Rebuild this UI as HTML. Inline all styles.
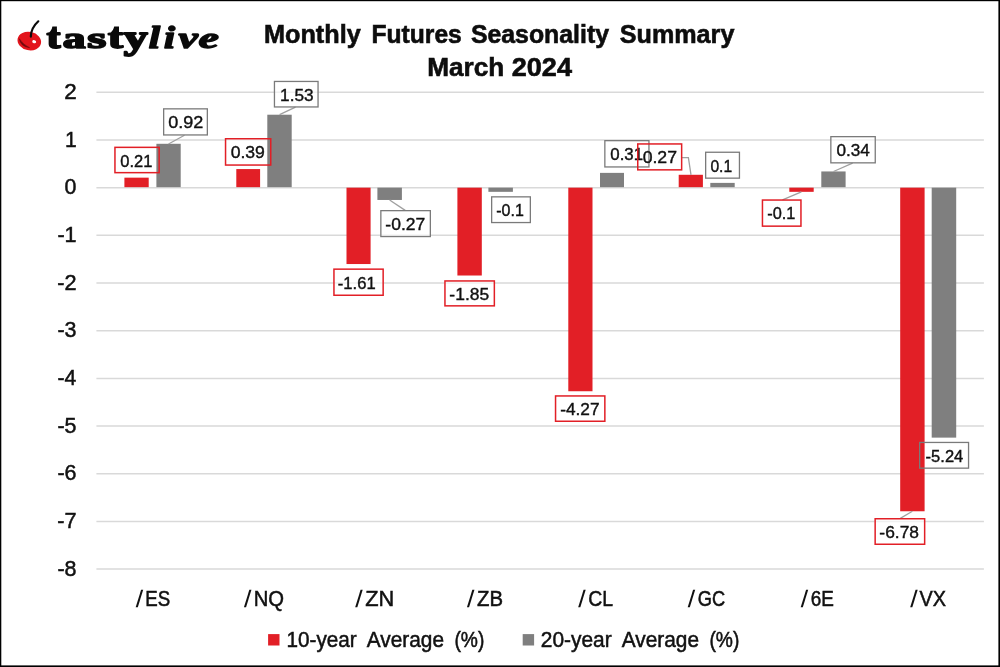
<!DOCTYPE html>
<html><head><meta charset="utf-8"><title>Monthly Futures Seasonality Summary - March 2024</title>
<style>html,body{margin:0;padding:0;background:#fff;}body{width:1000px;height:667px;overflow:hidden;font-family:"Liberation Sans",sans-serif;}svg{display:block;will-change:transform;}text{font-family:"Liberation Sans",sans-serif;fill:#111111;}</style></head><body>
<svg width="1000" height="667" viewBox="0 0 1000 667">
<rect x="0" y="0" width="1000" height="667" fill="#fff"/>
<g stroke="#d9d9d9" stroke-width="1.5">
<line x1="96.4" y1="92.3" x2="983.9" y2="92.3"/>
<line x1="96.4" y1="139.98" x2="983.9" y2="139.98"/>
<line x1="96.4" y1="187.66" x2="983.9" y2="187.66"/>
<line x1="96.4" y1="235.34" x2="983.9" y2="235.34"/>
<line x1="96.4" y1="283.02" x2="983.9" y2="283.02"/>
<line x1="96.4" y1="330.7" x2="983.9" y2="330.7"/>
<line x1="96.4" y1="378.38" x2="983.9" y2="378.38"/>
<line x1="96.4" y1="426.06" x2="983.9" y2="426.06"/>
<line x1="96.4" y1="473.74" x2="983.9" y2="473.74"/>
<line x1="96.4" y1="521.42" x2="983.9" y2="521.42"/>
<line x1="96.4" y1="569.1" x2="983.9" y2="569.1"/>
</g>
<g fill="#fff" fill-opacity="0.6">
<rect x="114.4" y="146.8" width="45.3" height="26.4"/>
<rect x="225" y="138.2" width="46.3" height="27.4"/>
<rect x="333.4" y="268.6" width="50.3" height="27.2"/>
<rect x="444.4" y="280.4" width="50.5" height="26"/>
<rect x="555" y="395.4" width="50.4" height="26.4"/>
<rect x="637.2" y="143.4" width="45" height="27"/>
<rect x="761.9" y="199.5" width="39.6" height="27.2"/>
<rect x="874.6" y="518.2" width="50.6" height="26.6"/>
<rect x="163.2" y="108.4" width="44.6" height="27"/>
<rect x="274" y="81" width="44.5" height="26.4"/>
<rect x="380.4" y="210.2" width="50.4" height="26.8"/>
<rect x="491.2" y="196.4" width="39.6" height="26.6"/>
<rect x="604.4" y="140.2" width="45" height="27.2"/>
<rect x="705.2" y="151.8" width="34.7" height="26.8"/>
<rect x="830.4" y="136.2" width="45.3" height="27.1"/>
<rect x="919.2" y="442" width="49.8" height="26.6"/>
</g>
<g>
<text transform="translate(64.129,98.9) scale(1.01,1)" font-size="22.2" stroke="#111111" stroke-width="0.5" vector-effect="non-scaling-stroke">2</text>
<text transform="translate(64.972,146.58) scale(0.948,1)" font-size="22.2" stroke="#111111" stroke-width="0.5" vector-effect="non-scaling-stroke">1</text>
<text transform="translate(64.396,194.26) scale(0.962,1)" font-size="22.2" stroke="#111111" stroke-width="0.5" vector-effect="non-scaling-stroke">0</text>
<text transform="translate(57.376,241.94) scale(0.975,1)" font-size="22.2" stroke="#111111" stroke-width="0.5" vector-effect="non-scaling-stroke">-1</text>
<text transform="translate(57.373,289.62) scale(0.978,1)" font-size="22.2" stroke="#111111" stroke-width="0.5" vector-effect="non-scaling-stroke">-2</text>
<text transform="translate(57.383,337.3) scale(0.968,1)" font-size="22.2" stroke="#111111" stroke-width="0.5" vector-effect="non-scaling-stroke">-3</text>
<text transform="translate(57.4,384.98) scale(0.951,1)" font-size="22.2" stroke="#111111" stroke-width="0.5" vector-effect="non-scaling-stroke">-4</text>
<text transform="translate(57.386,432.66) scale(0.965,1)" font-size="22.2" stroke="#111111" stroke-width="0.5" vector-effect="non-scaling-stroke">-5</text>
<text transform="translate(57.383,480.34) scale(0.968,1)" font-size="22.2" stroke="#111111" stroke-width="0.5" vector-effect="non-scaling-stroke">-6</text>
<text transform="translate(57.373,528.02) scale(0.978,1)" font-size="22.2" stroke="#111111" stroke-width="0.5" vector-effect="non-scaling-stroke">-7</text>
<text transform="translate(57.383,575.7) scale(0.968,1)" font-size="22.2" stroke="#111111" stroke-width="0.5" vector-effect="non-scaling-stroke">-8</text>
</g>
<rect x="124.4" y="177.647" width="24.3" height="9.513" fill="#e21f26"/>
<rect x="156.4" y="143.794" width="24.3" height="43.366" fill="#7f7f7f"/>
<rect x="236.3" y="169.065" width="23.8" height="18.095" fill="#e21f26"/>
<rect x="267.3" y="114.71" width="24.4" height="72.45" fill="#7f7f7f"/>
<rect x="346.5" y="187.66" width="24.1" height="76.38" fill="#e21f26"/>
<rect x="377.4" y="187.66" width="24.5" height="12.301" fill="#7f7f7f"/>
<rect x="457.4" y="187.66" width="24.4" height="87.857" fill="#e21f26"/>
<rect x="488.4" y="187.66" width="24.5" height="4.172" fill="#7f7f7f"/>
<rect x="568.3" y="187.66" width="24.2" height="203.581" fill="#e21f26"/>
<rect x="600" y="172.879" width="24" height="14.281" fill="#7f7f7f"/>
<rect x="678.7" y="174.786" width="24.2" height="12.374" fill="#e21f26"/>
<rect x="710.3" y="182.892" width="24.4" height="4.268" fill="#7f7f7f"/>
<rect x="789.3" y="187.66" width="24.4" height="4.172" fill="#e21f26"/>
<rect x="821.3" y="171.449" width="24.3" height="15.711" fill="#7f7f7f"/>
<rect x="900.2" y="187.66" width="24.4" height="323.61" fill="#e21f26"/>
<rect x="931.7" y="187.66" width="24.5" height="249.967" fill="#7f7f7f"/>
<g stroke="#a0a0a0" stroke-width="1.3" fill="none">
<polyline points="184.5,135.2 168.5,144"/>
<polyline points="295.5,107.2 279.6,114.7"/>
<polyline points="389.6,200 405.2,210.4"/>
<polyline points="681.9,157.6 688.4,157.6 691,174.8"/>
<polyline points="852.6,163.1 833.5,171.5"/>
<polyline points="801.4,191.9 782.5,199.8"/>
<polyline points="912.4,511.3 900.3,518.4"/>
</g>
<rect x="163.65" y="108.85" width="43.7" height="26.1" fill="none" stroke="#7a7a7a" stroke-width="1.3"/><text transform="translate(168.228,128.3) scale(1.062,1)" font-size="17" stroke="#111111" stroke-width="0.4" vector-effect="non-scaling-stroke">0.92</text>
<rect x="274.45" y="81.45" width="43.6" height="25.5" fill="none" stroke="#7a7a7a" stroke-width="1.3"/><text transform="translate(280.057,100.9) scale(1.014,1)" font-size="17" stroke="#111111" stroke-width="0.4" vector-effect="non-scaling-stroke">1.53</text>
<rect x="380.85" y="210.65" width="49.5" height="25.9" fill="none" stroke="#7a7a7a" stroke-width="1.3"/><text transform="translate(385.362,230.1) scale(1.03,1)" font-size="17" stroke="#111111" stroke-width="0.4" vector-effect="non-scaling-stroke">-0.27</text>
<rect x="491.65" y="196.85" width="38.7" height="25.7" fill="none" stroke="#7a7a7a" stroke-width="1.3"/><text transform="translate(496.229,216.3) scale(0.942,1)" font-size="17" stroke="#111111" stroke-width="0.4" vector-effect="non-scaling-stroke">-0.1</text>
<rect x="604.85" y="140.65" width="44.1" height="26.3" fill="none" stroke="#7a7a7a" stroke-width="1.3"/><text transform="translate(610.276,160.1) scale(0.991,1)" font-size="17" stroke="#111111" stroke-width="0.4" vector-effect="non-scaling-stroke">0.31</text>
<rect x="705.65" y="152.25" width="33.8" height="25.9" fill="none" stroke="#7a7a7a" stroke-width="1.3"/><text transform="translate(710.424,171.7) scale(0.921,1)" font-size="17" stroke="#111111" stroke-width="0.4" vector-effect="non-scaling-stroke">0.1</text>
<rect x="830.85" y="136.65" width="44.4" height="26.2" fill="none" stroke="#7a7a7a" stroke-width="1.3"/><text transform="translate(836.464,156.1) scale(1.009,1)" font-size="17" stroke="#111111" stroke-width="0.4" vector-effect="non-scaling-stroke">0.34</text>
<rect x="919.65" y="442.45" width="48.9" height="25.7" fill="none" stroke="#7a7a7a" stroke-width="1.3"/><text transform="translate(925.605,461.9) scale(0.974,1)" font-size="17" stroke="#111111" stroke-width="0.4" vector-effect="non-scaling-stroke">-5.24</text>
<rect x="114.95" y="147.35" width="44.2" height="25.3" fill="none" stroke="#e21f26" stroke-width="1.5"/><text transform="translate(120.289,166.7) scale(0.972,1)" font-size="17" stroke="#111111" stroke-width="0.4" vector-effect="non-scaling-stroke">0.21</text>
<rect x="225.55" y="138.75" width="45.2" height="26.3" fill="none" stroke="#e21f26" stroke-width="1.5"/><text transform="translate(230.645,158.1) scale(1.037,1)" font-size="17" stroke="#111111" stroke-width="0.4" vector-effect="non-scaling-stroke">0.39</text>
<rect x="333.95" y="269.15" width="49.2" height="26.1" fill="none" stroke="#e21f26" stroke-width="1.5"/><text transform="translate(337.802,288.5) scale(0.977,1)" font-size="17" stroke="#111111" stroke-width="0.4" vector-effect="non-scaling-stroke">-1.61</text>
<rect x="444.95" y="280.95" width="49.4" height="24.9" fill="none" stroke="#e21f26" stroke-width="1.5"/><text transform="translate(449.364,300.3) scale(1.028,1)" font-size="17" stroke="#111111" stroke-width="0.4" vector-effect="non-scaling-stroke">-1.85</text>
<rect x="555.55" y="395.95" width="49.3" height="25.3" fill="none" stroke="#e21f26" stroke-width="1.5"/><text transform="translate(560.173,415.3) scale(1.016,1)" font-size="17" stroke="#111111" stroke-width="0.4" vector-effect="non-scaling-stroke">-4.27</text>
<rect x="637.75" y="143.95" width="43.9" height="25.9" fill="none" stroke="#e21f26" stroke-width="1.5"/><text transform="translate(642.643,163.3) scale(1.04,1)" font-size="17" stroke="#111111" stroke-width="0.4" vector-effect="non-scaling-stroke">0.27</text>
<rect x="762.45" y="200.05" width="38.5" height="26.1" fill="none" stroke="#e21f26" stroke-width="1.5"/><text transform="translate(767.216,219.4) scale(0.96,1)" font-size="17" stroke="#111111" stroke-width="0.4" vector-effect="non-scaling-stroke">-0.1</text>
<rect x="875.15" y="518.75" width="49.5" height="25.5" fill="none" stroke="#e21f26" stroke-width="1.5"/><text transform="translate(879.367,538.1) scale(1.023,1)" font-size="17" stroke="#111111" stroke-width="0.4" vector-effect="non-scaling-stroke">-6.78</text>
<path d="M135.7 607.2 L137.8 607.2 L143.2 589.7 L141.1 589.7 Z" fill="#111111"/>
<text transform="translate(145.306,605.6) scale(0.843,1)" font-size="22.2" stroke="#111111" stroke-width="0.5" vector-effect="non-scaling-stroke">ES</text>
<path d="M243.95 607.2 L246.05 607.2 L251.45 589.7 L249.35 589.7 Z" fill="#111111"/>
<text transform="translate(253.729,605.6) scale(0.912,1)" font-size="22.2" stroke="#111111" stroke-width="0.5" vector-effect="non-scaling-stroke">NQ</text>
<path d="M355.2 607.2 L357.3 607.2 L362.7 589.7 L360.6 589.7 Z" fill="#111111"/>
<text transform="translate(365.141,605.6) scale(0.982,1)" font-size="22.2" stroke="#111111" stroke-width="0.5" vector-effect="non-scaling-stroke">ZN</text>
<path d="M466.95 607.2 L469.05 607.2 L474.45 589.7 L472.35 589.7 Z" fill="#111111"/>
<text transform="translate(476.938,605.6) scale(0.918,1)" font-size="22.2" stroke="#111111" stroke-width="0.5" vector-effect="non-scaling-stroke">ZB</text>
<path d="M578.2 607.2 L580.3 607.2 L585.7 589.7 L583.6 589.7 Z" fill="#111111"/>
<text transform="translate(588.177,605.6) scale(0.876,1)" font-size="22.2" stroke="#111111" stroke-width="0.5" vector-effect="non-scaling-stroke">CL</text>
<path d="M687.7 607.2 L689.8 607.2 L695.2 589.7 L693.1 589.7 Z" fill="#111111"/>
<text transform="translate(697.737,605.6) scale(0.823,1)" font-size="22.2" stroke="#111111" stroke-width="0.5" vector-effect="non-scaling-stroke">GC</text>
<path d="M800.7 607.2 L802.8 607.2 L808.2 589.7 L806.1 589.7 Z" fill="#111111"/>
<text transform="translate(810.803,605.6) scale(0.853,1)" font-size="22.2" stroke="#111111" stroke-width="0.5" vector-effect="non-scaling-stroke">6E</text>
<path d="M910.2 607.2 L912.3 607.2 L917.7 589.7 L915.6 589.7 Z" fill="#111111"/>
<text transform="translate(919.551,605.6) scale(0.896,1)" font-size="22.2" stroke="#111111" stroke-width="0.5" vector-effect="non-scaling-stroke">VX</text>
<rect x="268.1" y="634.1" width="11.4" height="11.4" fill="#e21f26"/>
<text transform="translate(286.445,646.8) scale(0.934,1)" font-size="22.2" stroke="#111111" stroke-width="0.5" vector-effect="non-scaling-stroke">10-year</text>
<text transform="translate(366.798,646.8) scale(0.939,1)" font-size="22.2" stroke="#111111" stroke-width="0.5" vector-effect="non-scaling-stroke">Average</text>
<text transform="translate(454.396,646.8) scale(0.868,1)" font-size="22.2" stroke="#111111" stroke-width="0.5" vector-effect="non-scaling-stroke">(%)</text>
<rect x="522.7" y="634.1" width="11.4" height="11.4" fill="#7f7f7f"/>
<text transform="translate(540.804,646.8) scale(0.942,1)" font-size="22.2" stroke="#111111" stroke-width="0.5" vector-effect="non-scaling-stroke">20-year</text>
<text transform="translate(621.798,646.8) scale(0.939,1)" font-size="22.2" stroke="#111111" stroke-width="0.5" vector-effect="non-scaling-stroke">Average</text>
<text transform="translate(709.396,646.8) scale(0.868,1)" font-size="22.2" stroke="#111111" stroke-width="0.5" vector-effect="non-scaling-stroke">(%)</text>
<text transform="translate(263.945,43.3) scale(0.957,1)" font-size="26.4" font-weight="bold" style="fill:#0d0d0d;" stroke="#0d0d0d" stroke-width="0.6" vector-effect="non-scaling-stroke">Monthly</text>
<text transform="translate(371.488,43.3) scale(0.933,1)" font-size="26.4" font-weight="bold" style="fill:#0d0d0d;" stroke="#0d0d0d" stroke-width="0.6" vector-effect="non-scaling-stroke">Futures</text>
<text transform="translate(470.904,43.3) scale(0.942,1)" font-size="26.4" font-weight="bold" style="fill:#0d0d0d;" stroke="#0d0d0d" stroke-width="0.6" vector-effect="non-scaling-stroke">Seasonality</text>
<text transform="translate(619.795,43.3) scale(0.953,1)" font-size="26.4" font-weight="bold" style="fill:#0d0d0d;" stroke="#0d0d0d" stroke-width="0.6" vector-effect="non-scaling-stroke">Summary</text>
<text transform="translate(427.184,76.3) scale(0.991,1)" font-size="26.4" font-weight="bold" style="fill:#0d0d0d;" stroke="#0d0d0d" stroke-width="0.6" vector-effect="non-scaling-stroke">March</text>
<text transform="translate(511.702,76.3) scale(1.026,1)" font-size="26.4" font-weight="bold" style="fill:#0d0d0d;" stroke="#0d0d0d" stroke-width="0.6" vector-effect="non-scaling-stroke">2024</text>
<g>
<ellipse cx="29.3" cy="41.05" rx="11.9" ry="9.2" fill="#e3141c" transform="rotate(12 29.3 41.05)"/>
<path d="M19.3 38.7 Q 20.4 46.6 29.6 47.7 Q 23.4 45.0 19.3 38.7 Z" fill="#6e080c" stroke="#6e080c" stroke-width="0.5" stroke-linejoin="round"/>
<ellipse cx="34.2" cy="41.7" rx="2.0" ry="1.5" fill="#fff" transform="rotate(15 34.2 41.7)"/>
<path d="M30.8 36.6 C 31.0 30.8, 34.0 25.2, 38.3 21.3" stroke="#0a0a0a" stroke-width="2.2" fill="none" stroke-linecap="round"/>
</g>
<text transform="translate(46.786,47.982) scale(1.365,1.061)" font-size="30" font-weight="bold" stroke="#0a0a0a" stroke-width="2.2" stroke-linejoin="round" vector-effect="non-scaling-stroke" style="font-family:'Liberation Serif',serif;fill:#0a0a0a;">t</text>
<text transform="translate(62.72,47.996) scale(1.517,1.014)" font-size="30" font-weight="bold" stroke="#0a0a0a" stroke-width="2.2" stroke-linejoin="round" vector-effect="non-scaling-stroke" style="font-family:'Liberation Serif',serif;fill:#0a0a0a;">a</text>
<text transform="translate(87.331,47.996) scale(1.632,1.014)" font-size="30" font-weight="bold" stroke="#0a0a0a" stroke-width="2.2" stroke-linejoin="round" vector-effect="non-scaling-stroke" style="font-family:'Liberation Serif',serif;fill:#0a0a0a;">s</text>
<text transform="translate(107.928,47.982) scale(1.493,1.061)" font-size="30" font-weight="bold" stroke="#0a0a0a" stroke-width="2.2" stroke-linejoin="round" vector-effect="non-scaling-stroke" style="font-family:'Liberation Serif',serif;fill:#0a0a0a;">t</text>
<text transform="translate(123.721,49.438) scale(1.597,1.126)" font-size="30" font-weight="bold" stroke="#0a0a0a" stroke-width="2.2" stroke-linejoin="round" vector-effect="non-scaling-stroke" style="font-family:'Liberation Serif',serif;fill:#0a0a0a;">y</text>
<path d="M50.5 33.5 L52.4 26.6 L56.9 26.6 L56.9 33.5 Z M111.9 33.5 L114.2 26.6 L119.0 26.6 L119.0 33.5 Z" fill="#0a0a0a"/>
<text transform="translate(148.832,47.85) scale(1.36,1.031)" font-size="30" font-weight="bold" font-style="italic" stroke="#0a0a0a" stroke-width="1.7" stroke-linejoin="round" vector-effect="non-scaling-stroke" style="font-family:'Liberation Serif',serif;fill:#0a0a0a;">l</text>
<text transform="translate(164.06,47.85) scale(1.32,1.05)" font-size="30" font-weight="bold" font-style="italic" stroke="#0a0a0a" stroke-width="1.7" stroke-linejoin="round" vector-effect="non-scaling-stroke" style="font-family:'Liberation Serif',serif;fill:#0a0a0a;">i</text>
<text transform="translate(178.514,47.946) scale(1.454,1.014)" font-size="30" font-weight="bold" font-style="italic" stroke="#0a0a0a" stroke-width="1.7" stroke-linejoin="round" vector-effect="non-scaling-stroke" style="font-family:'Liberation Serif',serif;fill:#0a0a0a;">v</text>
<text transform="translate(198.615,47.846) scale(1.533,1.014)" font-size="30" font-weight="bold" font-style="italic" stroke="#0a0a0a" stroke-width="1.7" stroke-linejoin="round" vector-effect="non-scaling-stroke" style="font-family:'Liberation Serif',serif;fill:#0a0a0a;">e</text>
<rect x="0" y="0" width="1000" height="1.2" fill="#000"/><rect x="0" y="0" width="1.3" height="667" fill="#000"/><rect x="998.4" y="0" width="1.6" height="667" fill="#000"/><rect x="0" y="665.4" width="1000" height="1.6" fill="#000"/>
</svg></body></html>
